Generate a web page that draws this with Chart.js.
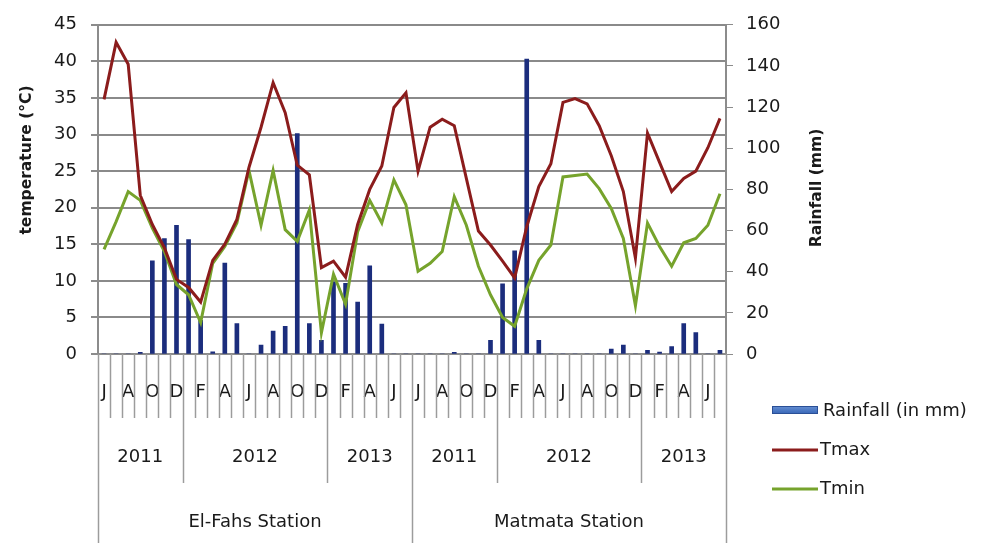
<!DOCTYPE html>
<html>
<head>
<meta charset="utf-8">
<script src="https://cdn.jsdelivr.net/npm/chart.js@4.4.1/dist/chart.umd.min.js"></script>
<style>
  html, body { margin: 0; padding: 0; background: #ffffff; }
  #wrap { width: 985px; height: 543px; position: relative; }
</style>
</head>
<body>
<div id="wrap"><canvas id="c"></canvas></div>
<script>
// Stations and the months shown for each (June 2011 – July 2013)
const stations = ['El-Fahs Station', 'Matmata Station'];
const yearGroups = ['2011', '2012', '2013'];
const monthsPerYear = [7, 12, 7];
const monthLetters = ['J','J','A','S','O','N','D',
                      'J','F','M','A','M','J','J','A','S','O','N','D',
                      'J','F','M','A','M','J','J'];

// Monthly rainfall (mm)
const rainElFahs = [0, 0, 0, 0.8, 45.3, 56.1, 62.5, 55.6, 16.4, 1.0, 44.2, 14.8, 0,
                    4.3, 11.2, 13.5, 107.1, 14.8, 6.7, 34.9, 34.4, 25.2, 42.9, 14.5, 0, 0];
const rainMatmata = [0, 0, 0, 0.8, 0, 0, 6.7, 34.1, 50.1, 143.3, 6.7, 0, 0,
                     0, 0, 0, 2.4, 4.3, 0, 1.8, 0.9, 3.6, 14.8, 10.4, 0, 1.8];

// Monthly mean maximum temperature (°C)
const tmaxElFahs = [34.8, 42.6, 39.6, 21.7, 17.7, 14.5, 10.2, 9.1, 7.1, 12.8, 15.0, 18.4, 25.5,
                    31.0, 37.1, 33.0, 25.8, 24.5, 11.8, 12.7, 10.5, 17.7, 22.5, 25.7, 33.7, 35.7];
const tmaxMatmata = [25.0, 31.0, 32.1, 31.2, 24.0, 16.8, 14.9, 12.7, 10.4, 17.4, 22.9, 26.0, 34.4,
                     34.9, 34.2, 31.2, 27.1, 22.2, 13.1, 30.2, 26.2, 22.2, 24.0, 25.0, 28.2, 32.2];

// Monthly mean minimum temperature (°C)
const tminElFahs = [14.3, 18.1, 22.2, 21.0, 17.2, 14.0, 9.5, 8.1, 4.3, 12.4, 14.7, 17.9, 25.1,
                    17.6, 25.1, 17.0, 15.4, 19.7, 2.9, 10.9, 6.8, 16.7, 21.0, 17.9, 23.8, 20.4];
const tminMatmata = [11.3, 12.4, 14.0, 21.5, 17.6, 12.0, 8.1, 5.0, 3.8, 8.9, 12.8, 14.9, 24.2,
                     24.4, 24.6, 22.6, 19.9, 15.8, 6.6, 17.9, 14.7, 12.0, 15.2, 15.8, 17.6, 21.9];

const temperatureTicks = { min: 0, max: 45, step: 5 };
const rainfallTicks = { min: 0, max: 160, step: 20 };

const labels = stations.flatMap(() => monthLetters);
const rain = rainElFahs.concat(rainMatmata);
const tmax = tmaxElFahs.concat(tmaxMatmata);
const tmin = tminElFahs.concat(tminMatmata);

const FONT = 'DejaVu Sans';
const TEXT = '#1a1a1a';
const AXIS_GREY = '#8c8c8c';
const RAIN_COLOR = '#1b2d7d';
const TMAX_COLOR = '#8b1c1c';
const TMIN_COLOR = '#76a32c';

// Grouped category axis (year and station rows), axis titles and legend
const decorations = {
  id: 'decorations',
  afterDraw(chart) {
    const { ctx, chartArea } = chart;
    const xs = chart.scales.x;
    const n = labels.length;
    const step = xs.getPixelForValue(1) - xs.getPixelForValue(0);
    const edge = i => xs.getPixelForValue(i) - step / 2;
    const base = chartArea.bottom;
    const perStation = monthLetters.length;

    ctx.save();
    ctx.strokeStyle = '#9c9c9c';
    ctx.lineWidth = 1.5;
    // category boundaries
    const yearEdges = new Set();
    const stationEdges = new Set();
    for (let s = 0; s <= stations.length; s++) stationEdges.add(s * perStation);
    for (let s = 0; s < stations.length; s++) {
      let acc = s * perStation;
      monthsPerYear.forEach(m => { acc += m; yearEdges.add(acc); });
    }
    for (let i = 0; i <= n; i++) {
      let bottom = base + 64;
      if (yearEdges.has(i)) bottom = base + 129;
      if (stationEdges.has(i)) bottom = 543;
      const x = Math.round(edge(i)) + 0.5;
      ctx.beginPath();
      ctx.moveTo(x, base);
      ctx.lineTo(x, bottom);
      ctx.stroke();
    }

    // year and station labels
    ctx.fillStyle = TEXT;
    ctx.font = `18px "${FONT}"`;
    ctx.textAlign = 'center';
    ctx.textBaseline = 'middle';
    for (let s = 0; s < stations.length; s++) {
      let start = s * perStation;
      yearGroups.forEach((yr, k) => {
        const end = start + monthsPerYear[k];
        ctx.fillText(yr, (edge(start) + edge(end)) / 2, base + 103);
        start = end;
      });
      const sx = (edge(s * perStation) + edge((s + 1) * perStation)) / 2;
      ctx.fillText(stations[s], sx, base + 168);
    }

    // axis titles
    ctx.font = `bold 15.5px "${FONT}"`;
    ctx.save();
    ctx.translate(27, 160);
    ctx.rotate(-Math.PI / 2);
    ctx.fillText('temperature (°C)', 0, 0);
    ctx.restore();
    ctx.save();
    ctx.translate(817, 188);
    ctx.rotate(-Math.PI / 2);
    ctx.fillText('Rainfall (mm)', 0, 0);
    ctx.restore();

    // legend
    const ds = chart.data.datasets;
    const lx = 772, lw = 46;
    ctx.textAlign = 'left';
    ctx.font = `18px "${FONT}"`;
    const grad = ctx.createLinearGradient(0, 405, 0, 415);
    grad.addColorStop(0, '#6d95d6');
    grad.addColorStop(1, '#2f5fb3');
    ctx.fillStyle = grad;
    ctx.fillRect(lx, 406, lw, 8);
    ctx.strokeStyle = '#2a4f96';
    ctx.lineWidth = 1;
    ctx.strokeRect(lx + 0.5, 406.5, lw - 1, 7);
    ctx.fillStyle = TEXT;
    ctx.fillText(ds[0].label, lx + lw + 5, 411);
    [[ds[1], 450], [ds[2], 489]].forEach(([d, y]) => {
      ctx.strokeStyle = d.borderColor;
      ctx.lineWidth = 3;
      ctx.beginPath();
      ctx.moveTo(lx, y);
      ctx.lineTo(lx + lw, y);
      ctx.stroke();
      ctx.fillStyle = TEXT;
      ctx.fillText(d.label, lx + lw + 2, y);
    });
    ctx.restore();
  }
};

new Chart(document.getElementById('c'), {
  data: {
    labels,
    datasets: [
      { type: 'bar', label: 'Rainfall (in mm)', data: rain, yAxisID: 'y2',
        backgroundColor: RAIN_COLOR, barThickness: 4, order: 3 },
      { type: 'line', label: 'Tmax', data: tmax, yAxisID: 'y',
        borderColor: TMAX_COLOR, borderWidth: 3, pointRadius: 0, tension: 0, order: 1 },
      { type: 'line', label: 'Tmin', data: tmin, yAxisID: 'y',
        borderColor: TMIN_COLOR, borderWidth: 3, pointRadius: 0, tension: 0, order: 2 }
    ]
  },
  options: {
    responsive: true,
    maintainAspectRatio: false,
    animation: false,
    layout: { padding: { top: 22, left: 0, right: 0, bottom: 0 } },
    plugins: { legend: { display: false }, tooltip: { enabled: false } },
    scales: {
      x: {
        type: 'category',
        offset: true,
        grid: { display: false, drawTicks: false },
        border: { display: true, color: AXIS_GREY, width: 2 },
        ticks: {
          autoSkip: false, maxRotation: 0, minRotation: 0, padding: 28,
          color: TEXT, font: { family: FONT, size: 18 },
          callback: (v, i) => (i % 2 === 0 ? labels[i] : '')
        },
        afterFit: s => { s.height = 189; }
      },
      y: {
        position: 'left',
        min: temperatureTicks.min, max: temperatureTicks.max,
        grid: { color: '#8a8a8a', lineWidth: 2, tickLength: 7, tickColor: AXIS_GREY },
        border: { display: true, color: AXIS_GREY, width: 2 },
        ticks: { stepSize: temperatureTicks.step, padding: 14, color: TEXT,
                 font: { family: FONT, size: 18 } },
        afterFit: s => { s.width = 98; }
      },
      y2: {
        position: 'right',
        min: rainfallTicks.min, max: rainfallTicks.max,
        grid: { drawOnChartArea: false, tickLength: 7, color: AXIS_GREY },
        border: { display: true, color: AXIS_GREY, width: 2 },
        ticks: { stepSize: rainfallTicks.step, padding: 13, color: TEXT,
                 font: { family: FONT, size: 18 } },
        afterFit: s => { s.width = 259; }
      }
    }
  },
  plugins: [decorations]
});
</script>
</body>
</html>
